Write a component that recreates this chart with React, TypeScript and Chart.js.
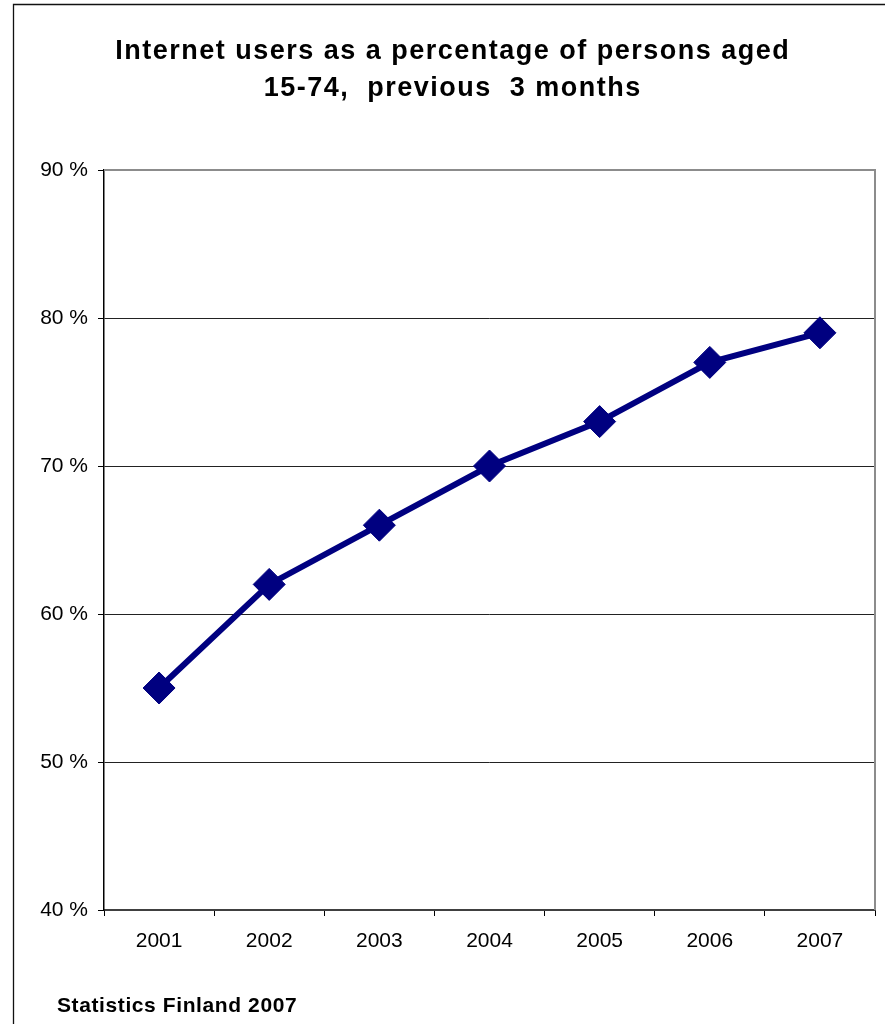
import React, { useEffect, useRef } from "react";
import { Chart, registerables } from "chart.js";

Chart.register(...registerables);

const years = ["2001", "2002", "2003", "2004", "2005", "2006", "2007"];
const internetUsers = [55, 62, 66, 70, 73, 77, 79];
const yMin = 40;
const yMax = 90;
const yStep = 10;
const titleLines = ["Internet users as a percentage of persons aged", "15-74,  previous  3 months"];
const footerText = "Statistics Finland 2007";

const FONT = '"Liberation Sans", Arial, sans-serif';

const decorPlugin = {
  id: "decor",
  beforeDraw(chart: any) {
    const ctx = chart.ctx;
    ctx.save();
    ctx.fillStyle = "#ffffff";
    ctx.fillRect(0, 0, chart.width, chart.height);
    ctx.strokeStyle = "#111111";
    ctx.lineWidth = 1.3;
    ctx.beginPath();
    ctx.moveTo(13.5, chart.height + 2);
    ctx.lineTo(13.5, 4.5);
    ctx.lineTo(chart.width + 2, 4.5);
    ctx.stroke();
    ctx.restore();
  },
  afterDraw(chart: any) {
    const ctx = chart.ctx;
    const a = chart.chartArea;
    ctx.save();
    ctx.strokeStyle = "#8c8c8c";
    ctx.lineWidth = 2;
    ctx.beginPath();
    ctx.moveTo(a.left, a.top);
    ctx.lineTo(a.right, a.top);
    ctx.lineTo(a.right, a.bottom);
    ctx.stroke();
    ctx.fillStyle = "#000000";
    ctx.textBaseline = "alphabetic";
    ctx.textAlign = "left";
    ctx.font = `bold 27px ${FONT}`;
    const sp = 1.5;
    (ctx as any).letterSpacing = `${sp}px`;
    const baselines = [59, 96];
    titleLines.forEach((t, i) => {
      const w = ctx.measureText(t).width - sp;
      ctx.fillText(t, 452 - w / 2, baselines[i]);
    });
    ctx.font = `bold 21px ${FONT}`;
    (ctx as any).letterSpacing = "0.6px";
    ctx.fillText(footerText, 57, 1012);
    ctx.restore();
  },
};

export default function App() {
  const ref = useRef<HTMLCanvasElement>(null);
  useEffect(() => {
    if (!ref.current) return;
    const chart = new Chart(ref.current, {
      type: "line",
      data: {
        labels: years,
        datasets: [
          {
            data: internetUsers,
            borderColor: "#000080",
            backgroundColor: "#000080",
            borderWidth: 6,
            pointStyle: "rectRot",
            pointRadius: 16,
            pointBorderWidth: 1,
            pointBackgroundColor: "#000080",
            pointBorderColor: "#000080",
            tension: 0,
            clip: false,
          },
        ],
      },
      options: {
        responsive: false,
        animation: false,
        events: [],
        layout: { autoPadding: false, padding: { top: 170, right: 10, left: 0, bottom: 0 } },
        plugins: {
          legend: { display: false },
          title: { display: false },
          tooltip: { enabled: false },
        },
        scales: {
          x: {
            offset: true,
            grid: {
              offset: true,
              drawOnChartArea: false,
              drawTicks: true,
              tickLength: 6,
              color: "#000000",
            },
            border: { color: "#404040", width: 2 },
            ticks: {
              color: "#000000",
              font: { family: FONT, size: 21 },
              padding: 13,
              maxRotation: 0,
            },
            afterFit: (s: any) => {
              s.height = 114;
            },
          },
          y: {
            min: yMin,
            max: yMax,
            grid: {
              color: (c: any) => (c.tick && c.tick.value === yMax ? "#8c8c8c" : "#222222"),
              tickColor: "#000000",
              tickLength: 6,
              lineWidth: 1,
            },
            border: { color: "#000000", width: 1.5 },
            ticks: {
              stepSize: yStep,
              color: "#000000",
              font: { family: FONT, size: 21 },
              padding: 10,
              callback: (v: any) => `${v} %`,
            },
            afterFit: (s: any) => {
              s.width = 104;
            },
          },
        },
      },
      plugins: [decorPlugin],
    });
    return () => chart.destroy();
  }, []);
  return (
    <div style={{ position: "absolute", left: 0, top: 0 }}>
      <canvas ref={ref} width={885} height={1024} style={{ display: "block" }} />
    </div>
  );
}
